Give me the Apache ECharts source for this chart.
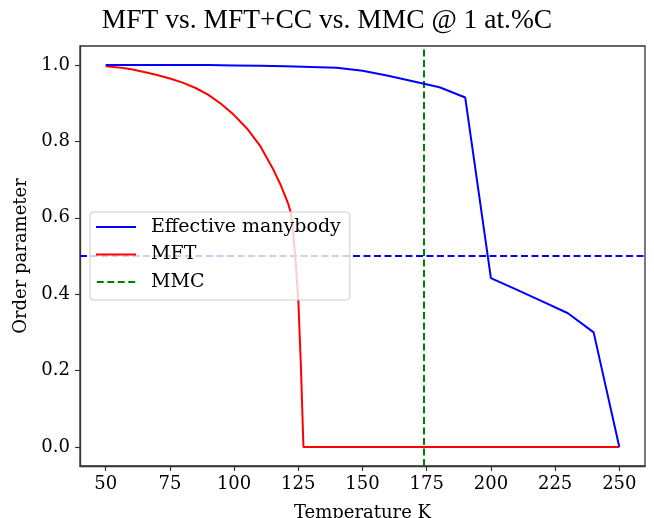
<!DOCTYPE html>
<html>
<head>
<meta charset="utf-8">
<script src="https://cdn.jsdelivr.net/npm/echarts@6/dist/echarts.min.js"></script>
<style>
  html, body { margin: 0; padding: 0; background: #fff; }
  #chart { width: 654px; height: 518px; }
</style>
</head>
<body>
<div id="chart"></div>
<script>
// Temperatures (K) and order parameter of the effective many-body model
const manybodyT = [50, 60, 70, 80, 90, 100, 110, 120, 130, 140, 150, 160, 170, 180, 190, 200, 210, 220, 230, 240, 250];
const manybodyM = [1.0, 1.0, 1.0, 1.0, 1.0, 0.999, 0.998, 0.997, 0.995, 0.993, 0.985, 0.972, 0.957, 0.942, 0.915, 0.442, 0.412, 0.381, 0.350, 0.300, 0.0];

// Mean-field theory solution
const mftT = [50, 55, 60, 65, 70, 75, 80, 85, 90, 95, 100, 105, 110, 115, 118, 120, 121, 122, 123, 124, 125, 126, 127, 150, 175, 200, 225, 250];
const mftM = [0.997, 0.994, 0.989, 0.982, 0.974, 0.965, 0.954, 0.940, 0.922, 0.898, 0.869, 0.834, 0.790, 0.730, 0.688, 0.655, 0.638, 0.615, 0.562, 0.482, 0.385, 0.215, 0.0, 0.0, 0.0, 0.0, 0.0, 0.0];

// Monte Carlo transition temperature and the half-order reference level
const mmcTemperature = 174;
const halfLevel = 0.5;

// Axis ticks
const xTicks = [50, 75, 100, 125, 150, 175, 200, 225, 250];
const yTicks = [0.0, 0.2, 0.4, 0.6, 0.8, 1.0];

const serif = 'DejaVu Serif';
const pair = (xs, ys) => xs.map((x, i) => [x, ys[i]]);

// Legend keys: a solid stroke and a dashed stroke
const solidKey = 'path://M0,0H40V2H0Z';
const dashedKey = 'path://M0,0H7V2H0Z M10.5,0H17.5V2H10.5Z M21,0H28V2H21Z M31.5,0H38.5V2H31.5Z';

const chart = echarts.init(document.getElementById('chart'), null, { renderer: 'canvas' });

chart.setOption({
  animation: false,
  backgroundColor: '#ffffff',
  title: {
    text: 'MFT vs. MFT+CC vs. MMC @ 1 at.%C',
    left: 'center',
    top: 2,
    textStyle: { fontFamily: 'Liberation Serif', fontSize: 27.5, fontWeight: 'normal', color: '#000' }
  },
  grid: {
    left: 80, right: 9, top: 46, bottom: 52,
    show: true, borderColor: '#333', borderWidth: 1.3,
    containLabel: false, outerBoundsMode: 'none'
  },
  legend: {
    orient: 'vertical',
    left: 90,
    top: 212,
    z: 10,
    data: [
      { name: 'Effective manybody', icon: solidKey },
      { name: 'MFT', icon: solidKey },
      { name: 'MMC', icon: dashedKey }
    ],
    itemWidth: 40,
    itemHeight: 2,
    itemGap: 7.5,
    padding: [5, 9, 8, 6],
    backgroundColor: 'rgba(255,255,255,0.8)',
    borderColor: '#cccccc',
    borderWidth: 1,
    borderRadius: 3,
    textStyle: { fontFamily: serif, fontSize: 19, color: '#000', lineHeight: 20, padding: [0, 0, 0, 10] }
  },
  xAxis: {
    type: 'value',
    min: 40,
    max: 260,
    name: 'Temperature K',
    nameLocation: 'middle',
    nameGap: 38,
    nameTextStyle: { fontFamily: serif, fontSize: 18, color: '#000' },
    axisLine: { show: true, onZero: false, lineStyle: { color: '#333', width: 1.3 } },
    axisTick: { show: true, length: 5, customValues: xTicks, lineStyle: { color: '#333', width: 1.2 } },
    axisLabel: { customValues: xTicks, margin: 9, fontFamily: serif, fontSize: 18, color: '#000' },
    splitLine: { show: false }
  },
  yAxis: {
    type: 'value',
    min: -0.05,
    max: 1.05,
    name: 'Order parameter',
    nameLocation: 'middle',
    nameGap: 43,
    nameTextStyle: { fontFamily: serif, fontSize: 18, color: '#000' },
    axisLine: { show: true, onZero: false, lineStyle: { color: '#333', width: 1.3 } },
    axisTick: { show: true, length: 5, customValues: yTicks, lineStyle: { color: '#333', width: 1.2 } },
    axisLabel: { customValues: yTicks, margin: 10, fontFamily: serif, fontSize: 18, color: '#000',
                 formatter: v => v.toFixed(1) },
    splitLine: { show: false }
  },
  series: [
    {
      name: 'Effective manybody',
      type: 'line',
      data: pair(manybodyT, manybodyM),
      symbol: 'none',
      lineStyle: { color: '#0000ff', width: 2 },
      itemStyle: { color: '#0000ff' },
      z: 3,
      markLine: {
        silent: true,
        z: 2,
        symbol: 'none',
        label: { show: false },
        lineStyle: { color: '#0000ff', width: 2, type: [7, 3.5] },
        data: [{ yAxis: halfLevel }]
      }
    },
    {
      name: 'MFT',
      type: 'line',
      data: pair(mftT, mftM),
      symbol: 'none',
      lineStyle: { color: '#ff0000', width: 2 },
      itemStyle: { color: '#ff0000' },
      z: 2
    },
    {
      name: 'MMC',
      type: 'line',
      data: [],
      symbol: 'none',
      lineStyle: { color: '#008000', width: 2, type: [7, 3.5] },
      itemStyle: { color: '#008000' },
      markLine: {
        silent: true,
        z: 2,
        symbol: 'none',
        label: { show: false },
        lineStyle: { color: '#008000', width: 2, type: [7, 3.5] },
        data: [{ xAxis: mmcTemperature }]
      }
    }
  ]
});
</script>
</body>
</html>
